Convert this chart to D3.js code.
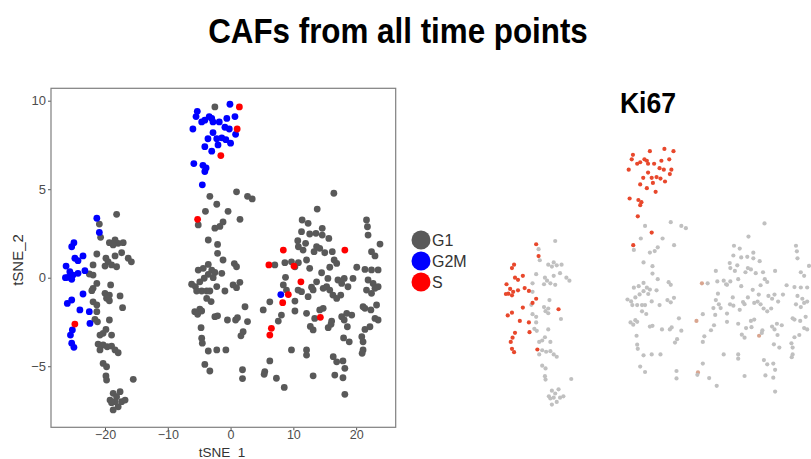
<!DOCTYPE html>
<html>
<head>
<meta charset="utf-8">
<script src="https://cdn.jsdelivr.net/npm/d3@7"></script>
<style>
  body { margin: 0; background: #fff; }
  svg { display: block; font-family: "Liberation Sans", Arial, sans-serif; }
</style>
</head>
<body>
<svg id="chart" width="811" height="459"></svg>
<script>
// cell cycle phases and legend colours
const phases = ['G1', 'G2M', 'S'];
const phaseColors = ['#595959', '#0000ff', '#ff0000'];

// tSNE coordinates, one list per phase
const g1 = [
  // top cluster
  [-2.5, 9.65],
  // middle column
  [0.95, 4.85], [-3.3, 4.6], [2.7, 4.6], [3.45, 4.45], [-2.2, 4.15], [-4.0, 3.75], [-0.4, 3.75],
  [1.5, 3.3], [-5.15, 2.98], [-1.2, 3.15], [-1.7, 2.9], [-2.5, 2.8], [-3.55, 2.13], [-2.07, 1.88],
  [-2.07, 1.38], [-1.2, 1.0], [0.6, 0.8], [0.95, 0.62], [-3.55, 0.75], [-4.35, 0.53], [-5.15, 0.43],
  [-3.0, 0.43], [-2.5, 0.3], [-1.4, 0.25], [-3.55, 0.19], [-4.2, -0.03], [-2.77, 0], [1.48, -0.26],
  [-6.2, -0.37], [-5.6, -0.5], [-4.9, -0.23], [-4.6, -0.75], [-3.8, -0.75], [-3.3, -0.75], [-2.2, -0.5],
  [-0.9, -0.75], [0.4, -0.41], [-5.4, -0.75], [0.95, -0.56], [-3.8, -1.17], [-3.1, -1.35], [2.3, -1.64],
  [-5.7, -1.92], [-4.9, -1.77], [-5.25, -2.07], [-4.6, -1.88], [-2.5, -2.2], [-2.07, -2.15], [-0.5, -2.39],
  [0.8, -2.39], [1.1, -2.26], [2.7, -2.48], [-4.7, -2.82], [2.0, -3.05], [1.65, -3.28], [-4.6, -3.42],
  [-4.5, -3.7], [-3.55, -4.14], [-2.2, -4.08], [-0.75, -4.08], [-4.1, -4.9], [-3.3, -5.27], [1.9, -5.2],
  [1.9, -5.7],
  // left cluster
  [-18.15, 3.58], [-20.9, 3.03], [-20.7, 2.28], [-19.3, 1.98], [-18.4, 2.13], [-17.9, 1.94], [-17.1, 1.98],
  [-18.7, 1.85], [-21.3, 1.34], [-19.85, 1.1], [-19.5, 0.9], [-18.4, 1.23], [-17.35, 1.41], [-16.3, 1.1],
  [-15.8, 0.9], [-21.9, 0.72], [-20.0, 0.66], [-18.95, 0.72], [-18.15, 0.62], [-22.5, 0.21], [-21.9, 0.15],
  [-21.3, -0.32], [-21.9, -0.6], [-22.1, -0.73], [-19.1, -0.41], [-20.0, -0.88], [-19.3, -0.98],
  [-19.75, -1.16], [-19.3, -1.3], [-17.6, -1.03], [-21.9, -1.36], [-21.3, -1.54], [-17.2, -1.69],
  [-21.3, -1.92], [-21.6, -2.35], [-21.2, -2.49], [-19.3, -2.39], [-19.85, -2.92], [-20.3, -3.14],
  [-20.8, -3.24], [-18.95, -3.24], [-21.1, -3.75], [-20.3, -3.8], [-19.65, -3.9], [-18.95, -3.86],
  [-18.4, -4.08], [-17.9, -4.24], [-20.8, -4.08], [-20.3, -4.84], [-19.75, -5.03], [-19.85, -5.55],
  [-19.75, -5.78], [-15.5, -5.74], [-17.6, -6.44], [-18.7, -6.53], [-18.15, -6.72], [-19.2, -6.91],
  [-18.4, -7.0], [-17.35, -7.0], [-17.9, -7.29], [-18.7, -7.47], [-18.95, -7.06], [-16.8, -6.91],
  // right cluster
  [16.45, 4.77], [13.8, 3.88], [11.4, 3.26], [12.35, 3.07], [14.6, 2.79], [13.6, 2.51], [12.6, 2.47],
  [11.3, 2.6], [15.65, 2.22], [10.7, 2.09], [11.95, 1.94], [10.8, 1.75], [13.7, 1.75], [14.2, 1.66],
  [13.3, 1.47], [11.55, 1.56], [16.2, 1.47], [21.65, 3.26], [21.8, 2.88], [21.9, 2.41], [23.8, 1.9],
  [22.45, 1.47], [23.0, 1.23], [8.65, 0.85], [9.7, 0.9], [10.8, 0.85], [12.1, 1.0], [12.6, 0.53],
  [10.25, 0.62], [7.05, 0.72], [16.5, 1.0], [16.9, 0.81], [15.8, 0.59], [14.5, 0.28], [20.1, 0.59],
  [21.4, 0.47], [22.45, 0.44], [23.5, 0.44], [8.75, 0.02], [18.1, -0.04], [17.1, -0.13], [13.7, -0.23],
  [12.9, -0.54], [14.75, -0.6], [15.3, -0.51], [15.8, -0.7], [21.9, -0.13], [22.7, -0.32], [23.5, -0.51],
  [23.0, -0.6], [21.65, -0.7], [22.45, -0.88], [8.4, -0.41], [8.9, -0.7], [10.75, -0.7], [11.3, -0.79],
  [10.25, -1.32], [6.25, -1.36], [5.2, -1.82], [12.35, -1.07], [13.15, -0.69], [17.55, -0.98],
  [23.25, -1.54], [21.4, -1.73], [22.35, -1.82], [23.0, -2.3], [23.5, -2.39], [8.1, -2.11], [7.6, -2.45],
  [12.1, -2.01], [13.4, -2.3], [14.2, -1.82], [14.75, -1.73], [10.25, -1.88], [16.1, -2.45],
  [15.55, -2.82], [16.0, -2.63], [17.7, -2.2], [18.5, -2.01], [19.3, -2.11], [18.1, -2.39], [18.6, -2.77],
  [21.1, -1.64], [22.2, -2.77], [21.4, -2.92], [13.15, -2.95], [20.9, -3.33], [21.1, -3.62], [21.1, -4.08],
  [20.95, -4.27], [18.9, -3.62], [18.0, -3.4], [9.7, -4.08], [12.1, -4.08], [12.1, -4.37], [16.35, -4.46],
  [16.9, -4.75], [17.9, -4.7], [18.2, -5.12], [6.25, -4.7], [5.45, -5.3], [5.35, -5.46], [7.3, -5.68],
  [8.55, -6.2], [13.15, -5.54], [16.6, -5.5], [17.9, -5.65], [18.2, -6.59], [15.0, 1.41], [14.6, 2.41],
  [16.3, -0.98], [16.9, -1.17], [17.7, -0.32], [19.5, -0.04], [18.7, -0.51], [15.5, -0.04], [12.7, -2.75]
];

const g2m = [
  // top cluster
  [-0.1, 9.8], [-5.3, 9.4], [-5.5, 9.1], [-4.6, 8.8], [-4.1, 8.9], [-3.4, 9.1], [-3.0, 9.0], [-2.8, 8.8],
  [-1.8, 8.8], [-0.6, 9.0], [0.7, 9.1], [-6.0, 8.4], [-0.9, 8.5], [-0.2, 8.4], [0.8, 8.1], [-2.8, 8.2],
  [-3.6, 7.85], [-2.2, 7.85], [-1.4, 7.9], [-0.75, 7.8], [0, 7.6], [-4.1, 7.4], [-3.0, 7.15], [-2.0, 7.5],
  [-5.85, 6.45], [-4.4, 6.35], [-3.9, 6.2], [-4.1, 6.0], [-4.5, 5.25],
  // left cluster
  [-21.3, 3.36], [-20.9, 2.56], [-24.95, 1.98], [-25.3, 1.75], [-24.8, 1.1], [-24.3, 0.96], [-23.5, 1.23],
  [-26.2, 0.66], [-25.6, 0.34], [-25.1, 0.15], [-25.9, 0.02], [-25.3, -0.09], [-26.3, 0.0], [-24.3, 0.25],
  [-23.2, 0.4], [-23.5, -0.92], [-25.3, -1.26], [-26.0, -1.45], [-24.0, -1.82], [-22.5, -1.92],
  [-22.4, -2.58], [-25.2, -2.95], [-25.5, -3.24], [-25.3, -3.7], [-24.95, -3.93],
  // right cluster
  [8.0, -0.95]
];

const sPhase = [
  [1.4, 9.65], [1.05, 8.4], [-1.55, 6.9], [-5.25, 3.3], [-24.8, -2.62], [8.4, 1.56], [18.2, 1.56],
  [6.1, 0.72], [10.1, 0.66], [11.2, -0.23], [9.2, -0.95], [8.3, -1.41], [14.3, -2.24], [6.5, -2.86],
  [6.25, -3.24]
];

// cells shown high / faintly high for Ki67 in the feature plot
const ki67High = [
  [-2.5, 9.65], [-2.2, 4.15], [-21.3, -0.32], [-21.9, -0.6], [-17.6, -1.03], [-21.1, -3.75],
  [-22.5, 0.21], [-21.3, 3.36]
];
const ki67Faint = [[6.1, 0.72], [5.2, -1.82], [15.55, -2.82], [5.45, -5.3]];

const ticksX = [-20, -10, 0, 10, 20];
const ticksY = [-5, 0, 5, 10];

const svg = d3.select('#chart');

// titles (the reference text is a little taller than it is wide)
svg.append('text')
  .attr('transform', 'translate(398,43) scale(0.95,1.05)')
  .attr('text-anchor', 'middle')
  .attr('font-size', 33).attr('font-weight', 'bold')
  .text('CAFs from all time points');

svg.append('text')
  .attr('transform', 'translate(648,113) scale(0.95,1.05)')
  .attr('text-anchor', 'middle')
  .attr('font-size', 28).attr('font-weight', 'bold')
  .text('Ki67');

// ---- left panel: phase scatter
const x = d3.scaleLinear().domain([-28.6, 26.3]).range([51, 395.7]);
const y = d3.scaleLinear().domain([-8.45, 10.7]).range([427.3, 88.3]);

const xAxis = svg.append('g')
  .attr('transform', 'translate(0,427.3)')
  .call(d3.axisBottom(x).tickValues(ticksX).tickSize(3).tickPadding(0));
const yAxis = svg.append('g')
  .attr('transform', 'translate(51,0)')
  .call(d3.axisLeft(y).tickValues(ticksY).tickSize(3).tickPadding(2));

[xAxis, yAxis].forEach(ax => {
  ax.select('.domain').remove();
  ax.selectAll('line').attr('stroke', '#555');
  ax.selectAll('text')
    .attr('fill', '#4d4d4d')
    .attr('font-size', 13)
    .attr('font-family', '"Liberation Sans", Arial, sans-serif');
});
xAxis.selectAll('text').attr('font-size', 12.5);

const groups = [g1, g2m, sPhase];
groups.forEach((pts, i) => {
  svg.append('g')
    .selectAll('circle')
    .data(pts)
    .join('circle')
    .attr('cx', d => x(d[0]))
    .attr('cy', d => y(d[1]))
    .attr('r', 3.4)
    .attr('fill', phaseColors[i]);
});

svg.append('rect')
  .attr('x', 51).attr('y', 88.3)
  .attr('width', 395.7 - 51).attr('height', 427.3 - 88.3)
  .attr('fill', 'none')
  .attr('stroke', '#7f7f7f')
  .attr('stroke-width', 1.2);

svg.append('text')
  .attr('x', 222).attr('y', 456.5)
  .attr('text-anchor', 'middle')
  .attr('font-size', 13.5).attr('fill', '#333')
  .text('tSNE_1');

svg.append('text')
  .attr('transform', 'translate(23,260) rotate(-90)')
  .attr('text-anchor', 'middle')
  .attr('font-size', 15).attr('fill', '#333')
  .text('tSNE_2');

// legend
const legend = svg.append('g');
phases.forEach((p, i) => {
  const ly = 240 + i * 21;
  legend.append('circle')
    .attr('cx', 421).attr('cy', ly).attr('r', 9.5)
    .attr('fill', phaseColors[i]);
  legend.append('text')
    .attr('x', 432).attr('y', ly + 6)
    .attr('font-size', 16).attr('fill', '#333')
    .text(p);
});

// ---- right panel: Ki67 feature plot (same embedding, smaller scale, no axes)
const kx = d3.scaleLinear().domain([-28.6, 26.3]).range([492, 824.1]);
const ky = d3.scaleLinear().domain([-8.45, 10.7]).range([419.1, 135.6]);

const key = d => d[0] + ',' + d[1];
const highSet = new Set(g2m.filter(d => d[0] < 4).concat(sPhase.filter(d => d[0] < 4), ki67High).map(key));
const faintSet = new Set(ki67Faint.map(key));
const allCells = g1.concat(g2m, sPhase);

svg.append('g').selectAll('circle')
  .data(allCells.filter(d => !highSet.has(key(d))))
  .join('circle')
  .attr('cx', d => kx(d[0]))
  .attr('cy', d => ky(d[1]))
  .attr('r', 2.1)
  .attr('fill', d => faintSet.has(key(d)) ? '#d9a58f' : '#c0c0c0');

svg.append('g').selectAll('circle')
  .data(allCells.filter(d => highSet.has(key(d))))
  .join('circle')
  .attr('cx', d => kx(d[0]))
  .attr('cy', d => ky(d[1]))
  .attr('r', 2.1)
  .attr('fill', '#e8482c');
</script>
</body>
</html>
